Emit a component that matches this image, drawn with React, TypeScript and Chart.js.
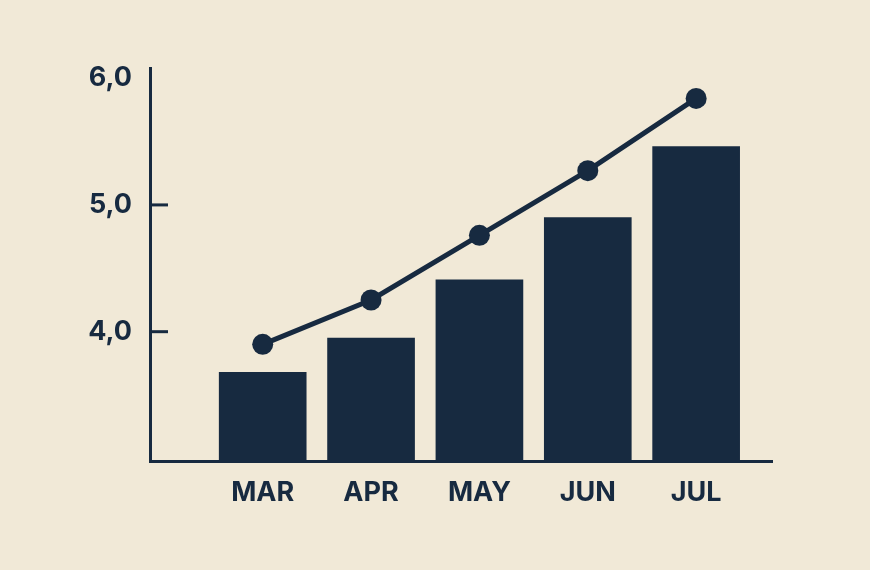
import React, { useEffect, useRef } from "react";
import { Chart, registerables } from "chart.js";

Chart.register(...registerables);

const categories = ["MAR", "APR", "MAY", "JUN", "JUL"];
const barValues = [3.68, 3.95, 4.41, 4.9, 5.46];
const lineValues = [3.9, 4.25, 4.76, 5.27, 5.84];
const yTickValues = [4, 5, 6];
const yInnerTickMarks = [4, 5];
const yMin = 2.98;
const yMax = 6.08;
const xMin = -1.04;
const xMax = 4.7;

const NAVY = "#172a40";
const BG = "#f1e9d7";
const FONT = "Inter, 'Open Sans', sans-serif";

const innerTicks = {
  id: "innerTicks",
  afterDraw(chart: any) {
    const ctx = chart.ctx;
    const y = chart.scales.y;
    const left = chart.chartArea.left;
    ctx.save();
    ctx.strokeStyle = NAVY;
    ctx.lineWidth = 3;
    yInnerTickMarks.forEach((v) => {
      const py = y.getPixelForValue(v);
      ctx.beginPath();
      ctx.moveTo(left, py);
      ctx.lineTo(left + 18, py);
      ctx.stroke();
    });
    ctx.restore();
  },
};

export default function App() {
  const ref = useRef<HTMLCanvasElement | null>(null);
  useEffect(() => {
    if (!ref.current) return;
    const chart = new Chart(ref.current, {
      type: "bar",
      data: {
        datasets: [
          {
            type: "line",
            data: lineValues.map((v, i) => ({ x: i, y: v })),
            borderColor: NAVY,
            backgroundColor: NAVY,
            borderWidth: 5,
            pointRadius: 10.5,
            pointBorderWidth: 0,
            pointBackgroundColor: NAVY,
            order: 0,
          } as any,
          {
            type: "bar",
            data: barValues.map((v, i) => ({ x: i, y: v })),
            backgroundColor: NAVY,
            barThickness: 87,
            base: yMin,
            order: 1,
          } as any,
        ],
      },
      options: {
        animation: false,
        responsive: false,
        maintainAspectRatio: false,
        layout: { padding: { left: 0, right: 98, top: 68, bottom: 0 } },
        plugins: { legend: { display: false }, tooltip: { enabled: false } },
        scales: {
          x: {
            type: "linear",
            min: xMin,
            max: xMax,
            offset: false,
            grid: { display: false, drawTicks: false },
            border: { display: true, color: NAVY, width: 3 },
            afterBuildTicks: (scale: any) => {
              scale.ticks = categories.map((_, i) => ({ value: i }));
            },
            afterFit: (scale: any) => {
              scale.height = 109;
            },
            ticks: {
              autoSkip: false,
              maxRotation: 0,
              padding: 16,
              color: NAVY,
              font: { family: FONT, size: 27, weight: "bold" },
              callback: (v: any) => categories[Math.round(Number(v))] ?? "",
            },
          },
          y: {
            min: yMin,
            max: yMax,
            grid: { display: false, drawTicks: false },
            border: { display: true, color: NAVY, width: 3 },
            afterBuildTicks: (scale: any) => {
              scale.ticks = yTickValues.map((v) => ({ value: v }));
            },
            afterFit: (scale: any) => {
              scale.width = 150;
            },
            ticks: {
              padding: 18,
              color: NAVY,
              font: { family: FONT, size: 27, weight: "bold" },
              callback: (v: any) => Number(v).toFixed(1).replace(".", ","),
            },
          },
        },
      } as any,
      plugins: [innerTicks],
    });
    return () => chart.destroy();
  }, []);
  return (
    <div
      style={{
        position: "fixed",
        left: 0,
        top: 0,
        width: 870,
        height: 570,
        background: BG,
      }}
    >
      <canvas ref={ref} width={870} height={570} style={{ width: 870, height: 570 }} />
    </div>
  );
}
